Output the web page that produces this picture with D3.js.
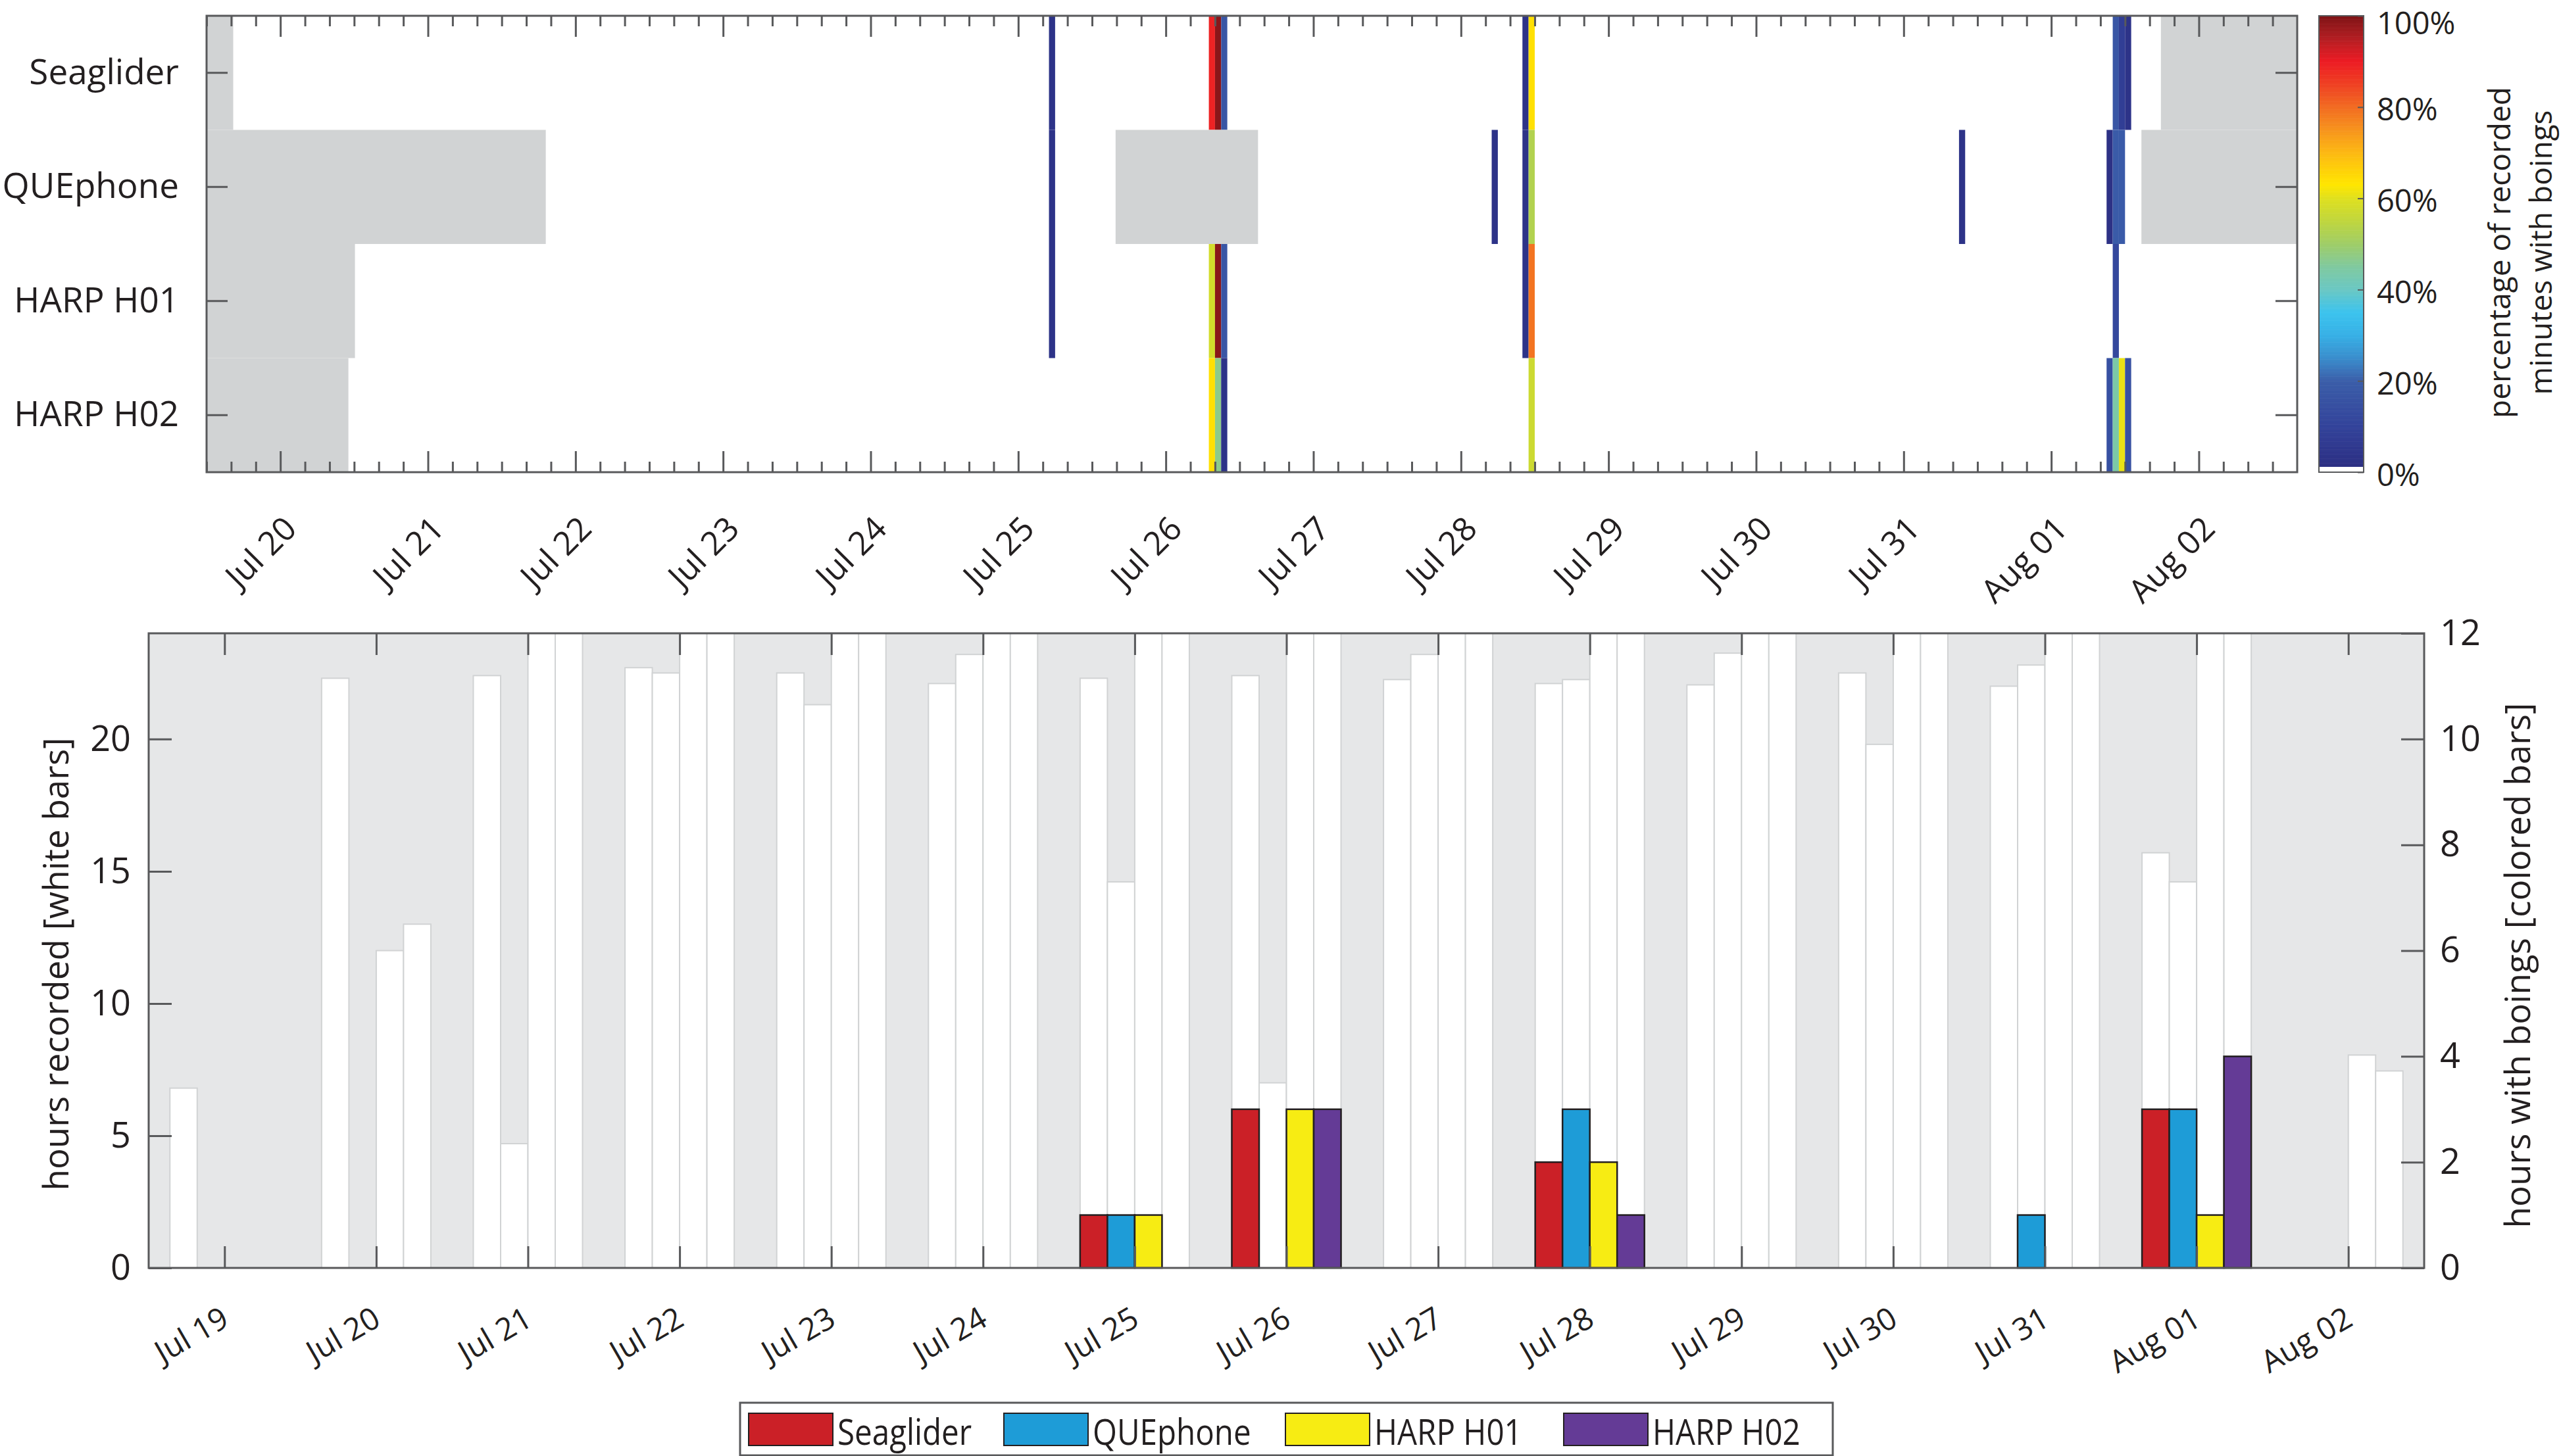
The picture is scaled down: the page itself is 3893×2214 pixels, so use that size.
<!DOCTYPE html>
<html>
<head>
<meta charset="utf-8">
<script src="https://cdn.jsdelivr.net/npm/d3@7"></script>
<style>
  body { margin: 0; background: #fff; }
  text { font-family: "Open Sans", "Noto Sans", sans-serif; fill: #231f20; }
</style>
</head>
<body>
<div id="chart"></div>
<script>
// boing detections per instrument: top = hourly % of recorded minutes, bottom = daily hours
const parseT = d3.timeParse("%Y-%m-%d %H:%M");

const instruments = ["Seaglider", "QUEphone", "HARP H01", "HARP H02"];
const barColors = ["#cb2027", "#1e9cd7", "#f7ec13", "#643b96"];

// ---- top panel data ----
const topStart = "2015-07-19 12:00";
const topEnd = "2015-08-02 16:00";

// periods without recordings (grey)
const gapsSeaglider = [["2015-07-19 12:00", "2015-07-19 16:20"], ["2015-08-01 17:50", "2015-08-02 16:00"]];
const gapsQUEphone = [["2015-07-19 12:00", "2015-07-21 19:10"], ["2015-07-25 15:50", "2015-07-26 15:00"], ["2015-08-01 14:40", "2015-08-02 16:00"]];
const gapsH01 = [["2015-07-19 12:00", "2015-07-20 12:08"]];
const gapsH02 = [["2015-07-19 12:00", "2015-07-20 11:04"]];

// hourly bins with boings: [hour start, % of recorded minutes]
const binsSeaglider = [["2015-07-25 05:00", 3], ["2015-07-26 07:00", 89], ["2015-07-26 08:00", 99], ["2015-07-26 09:00", 17],
  ["2015-07-28 10:00", 3], ["2015-07-28 11:00", 64], ["2015-08-01 10:00", 17], ["2015-08-01 11:00", 8], ["2015-08-01 12:00", 3]];
const binsQUEphone = [["2015-07-25 05:00", 3], ["2015-07-28 05:00", 3], ["2015-07-28 10:00", 3], ["2015-07-28 11:00", 53],
  ["2015-07-31 09:00", 3], ["2015-08-01 09:00", 2], ["2015-08-01 10:00", 19], ["2015-08-01 11:00", 19]];
const binsH01 = [["2015-07-25 05:00", 3], ["2015-07-26 07:00", 58], ["2015-07-26 08:00", 99], ["2015-07-26 09:00", 17],
  ["2015-07-28 10:00", 3], ["2015-07-28 11:00", 79], ["2015-08-01 10:00", 12]];
const binsH02 = [["2015-07-26 07:00", 64], ["2015-07-26 08:00", 47], ["2015-07-26 09:00", 3],
  ["2015-07-28 11:00", 57], ["2015-08-01 09:00", 15], ["2015-08-01 10:00", 44], ["2015-08-01 11:00", 61], ["2015-08-01 12:00", 15]];

const cbTicks = [0, 20, 40, 60, 80, 100];
const cmapStops = [0, 0.1, 0.2, 0.25, 0.3, 0.35, 0.4, 0.45, 0.5, 0.55, 0.6, 0.63, 0.7, 0.75, 0.8, 0.85, 0.9, 0.95, 1];
const cmapColors = ["#2b2c80", "#33439a", "#3b5ea9", "#3a8dcc", "#37b0e6", "#3cc3ee", "#6ac8c4", "#80c9a0", "#9fcd68",
  "#bfd63e", "#dfe01f", "#ffe600", "#fdb913", "#f7941d", "#f26c22", "#ef4123", "#ed1c24", "#b41e23", "#7f1416"];

// ---- bottom panel data ----
const days = ["2015-07-19", "2015-07-20", "2015-07-21", "2015-07-22", "2015-07-23", "2015-07-24", "2015-07-25", "2015-07-26",
  "2015-07-27", "2015-07-28", "2015-07-29", "2015-07-30", "2015-07-31", "2015-08-01", "2015-08-02"];
const recSeaglider = [6.8, 22.3, 22.4, 22.7, 22.5, 22.1, 22.3, 22.4, 22.25, 22.1, 22.05, 22.5, 22.0, 15.7, 0];
const recQUEphone = [0, 0, 4.7, 22.5, 21.3, 23.2, 14.6, 7.0, 23.2, 22.25, 23.25, 19.8, 22.8, 14.6, 0];
const recH01 = [0, 12.0, 24, 24, 24, 24, 24, 24, 24, 24, 24, 24, 24, 24, 8.05];
const recH02 = [0, 13.0, 24, 24, 24, 24, 24, 24, 24, 24, 24, 24, 24, 24, 7.45];
const boSeaglider = [0, 0, 0, 0, 0, 0, 1, 3, 0, 2, 0, 0, 0, 3, 0];
const boQUEphone = [0, 0, 0, 0, 0, 0, 1, 0, 0, 3, 0, 0, 1, 3, 0];
const boH01 = [0, 0, 0, 0, 0, 0, 1, 3, 0, 2, 0, 0, 0, 1, 0];
const boH02 = [0, 0, 0, 0, 0, 0, 0, 3, 0, 1, 0, 0, 0, 4, 0];
const leftTicks = [0, 5, 10, 15, 20];
const rightTicks = [0, 2, 4, 6, 8, 10, 12];

// ---- layout ----
const W = 3893, H = 2214;
const axisColor = "#58595b";
const P1 = { left: 314, right: 3492, top: 24, bottom: 718 };
const CB = { left: 3525, right: 3593 };
const P2 = { left: 226, right: 3685, top: 963, bottom: 1928 };

const svg = d3.select("#chart").append("svg").attr("width", W).attr("height", H);

const cmap = d3.scaleLinear().domain(cmapStops).range(cmapColors).interpolate(d3.interpolateRgb).clamp(true);
const pctColor = v => v <= 1.3 ? "#ffffff" : cmap(v / 100);

function styleAxis(g, fontSize) {
  g.attr("font-family", null).attr("font-size", fontSize);
  g.select(".domain").remove();
  g.selectAll(".tick line").attr("stroke", axisColor).attr("stroke-width", 3);
  g.selectAll(".tick text").attr("fill", "#231f20");
}

// =============== TOP PANEL ===============
const xT = d3.scaleTime().domain([parseT(topStart), parseT(topEnd)]).range([P1.left, P1.right]);
const yT = d3.scaleBand().domain(instruments).range([P1.top, P1.bottom]);
const gT = svg.append("g");

gT.append("rect").attr("x", P1.left).attr("y", P1.top)
  .attr("width", P1.right - P1.left).attr("height", P1.bottom - P1.top).attr("fill", "#fff");

const gaps = [gapsSeaglider, gapsQUEphone, gapsH01, gapsH02];
const bins = [binsSeaglider, binsQUEphone, binsH01, binsH02];

instruments.forEach((name, i) => {
  gT.append("g").selectAll("rect")
    .data(gaps[i]).enter().append("rect")
    .attr("x", d => xT(parseT(d[0])))
    .attr("width", d => xT(parseT(d[1])) - xT(parseT(d[0])))
    .attr("y", yT(name))
    .attr("height", yT.bandwidth())
    .attr("fill", "#d1d3d4");

  gT.append("g").selectAll("rect")
    .data(bins[i]).enter().append("rect")
    .attr("x", d => xT(parseT(d[0])))
    .attr("width", d => xT(d3.timeHour.offset(parseT(d[0]), 1)) - xT(parseT(d[0])))
    .attr("y", yT(name))
    .attr("height", yT.bandwidth())
    .attr("fill", d => pctColor(d[1]));
});

// minor ticks every 4 h, major ticks each day
const minorT = d3.timeHour.every(4).range(xT.domain()[0], xT.domain()[1]).filter(d => d.getHours() !== 0);
const majorT = d3.timeDay.range(xT.domain()[0], xT.domain()[1]);

gT.append("g").attr("transform", `translate(0,${P1.bottom})`)
  .call(d3.axisBottom(xT).tickValues(minorT).tickSize(-16).tickFormat(""))
  .call(g => styleAxis(g, 50));
gT.append("g").attr("transform", `translate(0,${P1.top})`)
  .call(d3.axisTop(xT).tickValues(minorT).tickSize(-16).tickFormat(""))
  .call(g => styleAxis(g, 50));
gT.append("g").attr("transform", `translate(0,${P1.top})`)
  .call(d3.axisTop(xT).tickValues(majorT).tickSize(-32).tickFormat(""))
  .call(g => styleAxis(g, 50));
gT.append("g").attr("transform", `translate(0,${P1.bottom})`)
  .call(d3.axisBottom(xT).tickValues(majorT).tickSize(-32).tickFormat(d3.timeFormat("%b %d")))
  .call(g => styleAxis(g, 50))
  .call(g => g.selectAll(".tick text")
    .attr("x", 27).attr("y", 89).attr("dy", 0)
    .attr("text-anchor", "end")
    .attr("transform", "rotate(-45,27,89)"));

gT.append("g").attr("transform", `translate(${P1.left},0)`)
  .call(d3.axisLeft(yT).tickSize(-32).tickPadding(42))
  .call(g => styleAxis(g, 53));
gT.append("g").attr("transform", `translate(${P1.right},0)`)
  .call(d3.axisRight(yT).tickSize(-33).tickFormat(""))
  .call(g => styleAxis(g, 53));

gT.append("rect").attr("x", P1.left).attr("y", P1.top)
  .attr("width", P1.right - P1.left).attr("height", P1.bottom - P1.top)
  .attr("fill", "none").attr("stroke", axisColor).attr("stroke-width", 3);

// colorbar
const yC = d3.scaleLinear().domain([0, 100]).range([P1.bottom, P1.top]);
const cbSteps = d3.range(0, 100, 0.25);
svg.append("g").selectAll("rect")
  .data(cbSteps).enter().append("rect")
  .attr("x", CB.left)
  .attr("width", CB.right - CB.left)
  .attr("y", d => yC(d + 0.25))
  .attr("height", d => yC(d) - yC(d + 0.25) + 0.6)
  .attr("fill", d => pctColor(d + 0.125));
svg.append("rect").attr("x", CB.left).attr("y", P1.top)
  .attr("width", CB.right - CB.left).attr("height", P1.bottom - P1.top)
  .attr("fill", "none").attr("stroke", axisColor).attr("stroke-width", 2);
svg.append("g").attr("transform", `translate(${CB.right},0)`)
  .call(d3.axisRight(yC).tickValues(cbTicks).tickSize(-9).tickPadding(20).tickFormat(d => d + "%"))
  .call(g => styleAxis(g, 47))
  .call(g => g.selectAll(".tick line").attr("stroke-width", 2))
  .call(g => g.selectAll(".tick text").attr("y", d => d === 100 ? 12 : 5));

const cbLabel = svg.append("g").attr("font-size", 46);
cbLabel.append("text").attr("transform", "translate(3816,384) rotate(-90)")
  .attr("text-anchor", "middle").text("percentage of recorded");
cbLabel.append("text").attr("transform", "translate(3879,384) rotate(-90)")
  .attr("text-anchor", "middle").text("minutes with boings");

// =============== BOTTOM PANEL ===============
const xB = d3.scaleTime().domain([parseT("2015-07-18 12:00"), parseT("2015-08-02 12:00")]).range([P2.left, P2.right]);
const yL = d3.scaleLinear().domain([0, 24]).range([P2.bottom, P2.top]);
const yR = d3.scaleLinear().domain([0, 12]).range([P2.bottom, P2.top]);
const dayDates = days.map(d => parseT(d + " 00:00"));
const bw = xB(new Date(+dayDates[0] + 0.18 * 864e5)) - xB(dayDates[0]);

const gB = svg.append("g");
gB.append("rect").attr("x", P2.left).attr("y", P2.top)
  .attr("width", P2.right - P2.left).attr("height", P2.bottom - P2.top).attr("fill", "#e6e7e8");

const recs = [recSeaglider, recQUEphone, recH01, recH02];
const boings = [boSeaglider, boQUEphone, boH01, boH02];

instruments.forEach((name, i) => {
  const rows = dayDates.map((d, j) => ({ date: d, rec: recs[i][j], bo: boings[i][j] }));
  gB.append("g").selectAll("rect")
    .data(rows.filter(r => r.rec > 0)).enter().append("rect")
    .attr("x", d => xB(d.date) + (i - 2) * bw)
    .attr("width", bw)
    .attr("y", d => yL(d.rec))
    .attr("height", d => yL(0) - yL(d.rec))
    .attr("fill", "#fff")
    .attr("stroke", "#d1d3d4")
    .attr("stroke-width", 2);
});
instruments.forEach((name, i) => {
  const rows = dayDates.map((d, j) => ({ date: d, bo: boings[i][j] }));
  gB.append("g").selectAll("rect")
    .data(rows.filter(r => r.bo > 0)).enter().append("rect")
    .attr("x", d => xB(d.date) + (i - 2) * bw)
    .attr("width", bw)
    .attr("y", d => yR(d.bo))
    .attr("height", d => yR(0) - yR(d.bo))
    .attr("fill", barColors[i])
    .attr("stroke", "#231f20")
    .attr("stroke-width", 2.5);
});

gB.append("g").attr("transform", `translate(0,${P2.bottom})`)
  .call(d3.axisBottom(xB).tickValues(dayDates).tickSize(-33).tickFormat(d3.timeFormat("%b %d")))
  .call(g => styleAxis(g, 47))
  .call(g => g.selectAll(".tick text")
    .attr("x", 9).attr("y", 86).attr("dy", 0)
    .attr("text-anchor", "end")
    .attr("transform", "rotate(-30,9,86)"));
gB.append("g").attr("transform", `translate(0,${P2.top})`)
  .call(d3.axisTop(xB).tickValues(dayDates).tickSize(-33).tickFormat(""))
  .call(g => styleAxis(g, 47));
gB.append("g").attr("transform", `translate(${P2.left},0)`)
  .call(d3.axisLeft(yL).tickValues(leftTicks).tickSize(-35).tickPadding(27))
  .call(g => styleAxis(g, 54));
gB.append("g").attr("transform", `translate(${P2.right},0)`)
  .call(d3.axisRight(yR).tickValues(rightTicks).tickSize(-35).tickPadding(24))
  .call(g => styleAxis(g, 54));

gB.append("rect").attr("x", P2.left).attr("y", P2.top)
  .attr("width", P2.right - P2.left).attr("height", P2.bottom - P2.top)
  .attr("fill", "none").attr("stroke", axisColor).attr("stroke-width", 3);

svg.append("text").attr("transform", "translate(104,1466) rotate(-90)")
  .attr("text-anchor", "middle").attr("font-size", 53).text("hours recorded [white bars]");
svg.append("text").attr("transform", "translate(3846,1468) rotate(-90)")
  .attr("text-anchor", "middle").attr("font-size", 53).text("hours with boings [colored bars]");

// =============== LEGEND ===============
const legendX = [1138, 1526, 1954, 2377];
const lg = svg.append("g");
lg.append("rect").attr("x", 1125).attr("y", 2133).attr("width", 1661).attr("height", 80)
  .attr("fill", "#fff").attr("stroke", axisColor).attr("stroke-width", 3);
lg.selectAll(".sw").data(instruments).enter().append("rect")
  .attr("class", "sw")
  .attr("x", (d, i) => legendX[i]).attr("y", 2149)
  .attr("width", 128).attr("height", 49)
  .attr("fill", (d, i) => barColors[i])
  .attr("stroke", "#231f20").attr("stroke-width", 2);
lg.selectAll(".lt").data(instruments).enter().append("text")
  .attr("class", "lt")
  .attr("x", (d, i) => legendX[i] + 135).attr("y", 2197)
  .attr("font-size", 54)
  .text(d => d)
  .each(function () {
    const w = this.getComputedTextLength();
    d3.select(this).attr("textLength", w * 0.88).attr("lengthAdjust", "spacingAndGlyphs");
  });
</script>
</body>
</html>
